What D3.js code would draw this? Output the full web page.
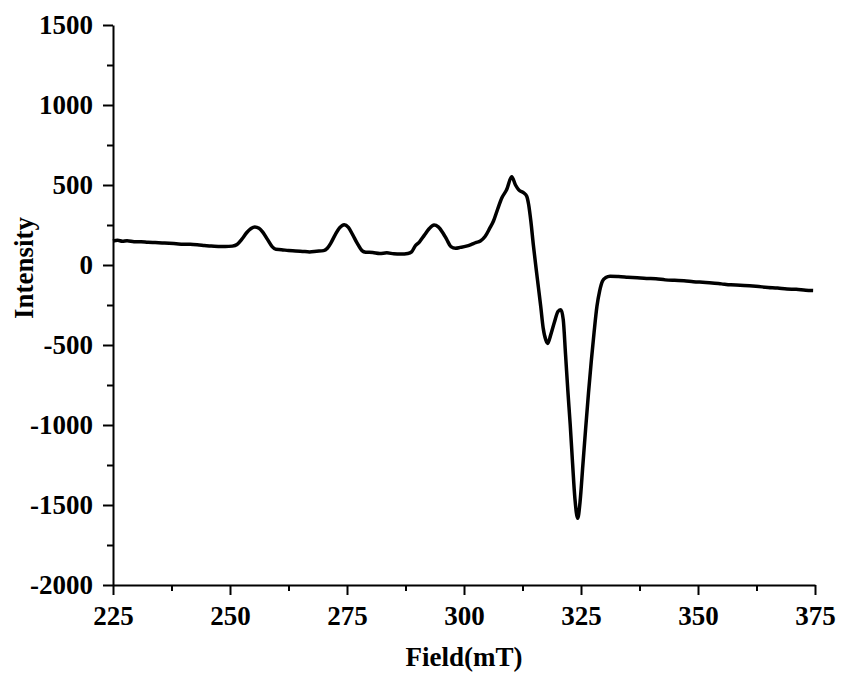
<!DOCTYPE html>
<html>
<head>
<meta charset="utf-8">
<script src="https://cdn.jsdelivr.net/npm/d3@7"></script>
<style>
  body { margin: 0; background: #fff; }
  text { font-family: "Liberation Serif", "Times New Roman", serif; font-weight: bold; }
</style>
</head>
<body>
<div id="chart"></div>
<script>
// field (mT) and intensity
var field = [225, 226, 227, 228, 229.5, 231, 232.5, 234, 235.5, 237, 238.5, 240, 241.5, 243, 244.5, 246, 247.5, 249,
  250.5, 251.5, 252.5, 253.5, 254.5, 255.3, 256.2, 257, 258, 259, 259.8, 261, 262.5, 264, 265.5, 267, 268.5, 270,
  270.8, 271.6, 272.5, 273.4, 274.4, 275.3, 276.2, 277.2, 278.2, 279, 280.5, 282, 283.5, 285, 286.5, 288,
  288.8, 289.6, 290.5, 291.5, 292.5, 293.6, 294.5, 295.5, 296.3, 297.2, 298.2, 299.2, 300.5, 301.5, 302.5, 303.5,
  304.5, 305.5, 306.3, 307.2, 308.1, 309.1, 310.2, 311, 311.7, 312.8, 313.4, 313.8, 314.3, 314.8, 315.4, 315.9,
  316.4, 316.9, 317.5, 317.9, 318.5, 319.3, 320.1, 320.7, 321.2, 321.7, 322.2, 322.7, 323.2, 323.7, 324.3, 324.8,
  325.4, 326, 326.6, 327.2, 327.8, 328.4, 329, 329.6, 330.3, 331.2, 333, 335, 337, 339, 341, 343, 345, 347, 349,
  351, 353, 355, 357, 359, 361, 363, 365, 367, 369, 371, 373, 374.6];
var intensity = [150, 155, 148, 152, 146, 145, 142, 140, 138, 136, 133, 130, 129, 126, 122, 118, 116, 115,
  118, 128, 160, 200, 228, 238, 230, 205, 160, 115, 98, 96, 90, 88, 85, 82, 86, 90,
  105, 140, 190, 232, 252, 235, 190, 135, 90, 80, 78, 72, 76, 70, 68, 72,
  82, 120, 145, 185, 225, 250, 238, 200, 160, 115, 105, 110, 118, 128, 140, 150,
  178, 230, 275, 350, 420, 470, 552, 500, 470, 450, 430, 380, 270, 130, -20, -140,
  -260, -390, -470, -490, -440, -360, -290, -280, -340, -560, -790, -1000, -1240, -1460, -1583, -1480,
  -1250, -1020, -800, -600, -420, -260, -160, -100, -78, -70, -72, -76, -80, -84, -86, -93, -96, -98, -104,
  -108, -112, -118, -124, -126, -130, -135, -140, -144, -150, -152, -158, -160];

var xTicks = [225, 250, 275, 300, 325, 350, 375];
var xMinor = [237.5, 262.5, 287.5, 312.5, 337.5, 362.5];
var yTicks = [-2000, -1500, -1000, -500, 0, 500, 1000, 1500];
var yMinor = [-1750, -1250, -750, -250, 250, 750, 1250];

var margin = {top: 25, right: 26, bottom: 88, left: 113},
    width = 841 - margin.left - margin.right,
    height = 673 - margin.top - margin.bottom;

var svg = d3.select("#chart")
  .append("svg")
    .attr("width", 841)
    .attr("height", 673)
  .append("g")
    .attr("transform", "translate(" + margin.left + "," + margin.top + ")");

var x = d3.scaleLinear().domain([225, 375]).range([0, width]);
var y = d3.scaleLinear().domain([-2000, 1500]).range([height, 0]);

// minor ticks
svg.append("g")
  .attr("transform", "translate(0," + height + ")")
  .call(d3.axisBottom(x).tickValues(xMinor).tickSize(6).tickFormat(""))
  .call(g => g.select(".domain").remove());
svg.append("g")
  .call(d3.axisLeft(y).tickValues(yMinor).tickSize(6).tickFormat(""))
  .call(g => g.select(".domain").remove());

// X axis
svg.append("g")
  .attr("transform", "translate(0," + height + ")")
  .call(d3.axisBottom(x).tickValues(xTicks).tickSize(10).tickSizeOuter(0).tickPadding(11).tickFormat(d => String(d)));

// Y axis (plain hyphen for negatives, as in the original)
svg.append("g")
  .call(d3.axisLeft(y).tickValues(yTicks).tickSize(10).tickSizeOuter(0).tickPadding(10).tickFormat(d => String(d)));

svg.selectAll(".tick line").attr("stroke", "#000").attr("stroke-width", 2);
svg.selectAll(".domain").attr("stroke", "#000").attr("stroke-width", 2);
svg.selectAll(".tick text")
  .attr("fill", "#000")
  .style("font-size", "27px")
  .style("font-family", "'Liberation Serif', 'Times New Roman', serif")
  .style("font-weight", "bold");

// line
var pts = field.map(function(f, i) { return {f: f, v: intensity[i]}; });
svg.append("path")
  .datum(pts)
  .attr("fill", "none")
  .attr("stroke", "#000")
  .attr("stroke-width", 3.5)
  .attr("stroke-linejoin", "round")
  .attr("d", d3.line().curve(d3.curveMonotoneX).x(d => x(d.f)).y(d => y(d.v)));

// axis labels
svg.append("text")
  .attr("text-anchor", "middle")
  .attr("x", width / 2)
  .attr("y", height + 81)
  .style("font-size", "27px")
  .text("Field(mT)");

svg.append("text")
  .attr("text-anchor", "middle")
  .attr("transform", "rotate(-90)")
  .attr("x", -243)
  .attr("y", -80)
  .style("font-size", "27px")
  .text("Intensity");
</script>
</body>
</html>
